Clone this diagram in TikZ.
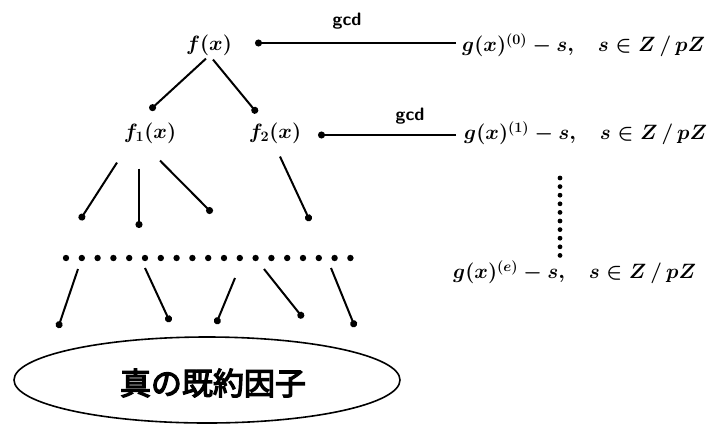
\documentclass[tikz,border=0pt]{standalone}
\usepackage{fontspec}
\newfontfamily\cjk{Noto Sans CJK JP}[AutoFakeBold=4]
\usetikzlibrary{arrows.meta,shapes.geometric}
\begin{document}
\begin{tikzpicture}[x=1pt,y=-1pt,
  lbl/.style={inner sep=0pt,font=\fontsize{21}{24}\selectfont\boldmath},
  glbl/.style={inner sep=0pt,anchor=west,font=\fontsize{20}{22}\selectfont\boldmath},
  gcdlbl/.style={font=\sffamily\bfseries\fontsize{18}{20}\selectfont,inner sep=0pt},
  conn/.style={line width=2pt,-{Circle[length=7pt]}},
  gcdline/.style={line width=1.2pt,-{Circle[length=7pt]}}]
\useasboundingbox (0,0) rectangle (711,426);
% top level
\node[lbl] (fx) at (209,45) {$f(x)$};
\node[lbl] (f1) at (150,133) {$f_1(x)$};
\node[lbl] (f2) at (275,133) {$f_2(x)$};
\node[glbl] (g0) at (462,45) {$g(x)^{(0)}-s,\;\;\; s\in Z\,/\,pZ$};
\node[glbl] (g1) at (464,133) {$g(x)^{(1)}-s,\;\;\; s\in Z\,/\,pZ$};
\node[glbl] (ge) at (453,272) {$g(x)^{(e)}-s,\;\;\; s\in Z\,/\,pZ$};
% gcd connectors
\coordinate (h0) at (255,43);
\coordinate (h1) at (318,135);
\draw[gcdline] (g0.west) ++(-6,-2) -- (h0);
\draw[gcdline] (g1.west) ++(-8,2) -- (h1);
\node[gcdlbl] (gcd0) at (347,21) {gcd};
\node[gcdlbl] (gcd1) at (410,116) {gcd};
% tree from f(x)
\coordinate (d1) at (150,110);
\coordinate (d2) at (257,113);
\draw[conn] (fx.south) ++(-3,3) -- (d1);
\draw[conn] (fx.south) ++(4,4) -- (d2);
% from f1, f2
\coordinate (a1) at (80,220);
\coordinate (a2) at (139,228);
\coordinate (a3) at (212,213);
\coordinate (a4) at (310,221);
\draw[conn] (f1.south) ++(-33,19) -- (a1);
\draw[conn] (f1.south) ++(-11,25) -- (a2);
\draw[conn] (f1.south) ++(10,17) -- (a3);
\draw[conn] (f2.south) ++(5,13) -- (a4);
% dotted row
\foreach \i in {0,...,18} \fill (66+15.8*\i,258) circle (3.2pt);
% vertical dots
\foreach \i in {0,...,9} \fill (560,178+8.6*\i) circle (2.4pt);
% ellipse
\node[ellipse,draw,line width=1.6pt,minimum width=386pt,minimum height=86pt,inner sep=0pt] (res) at (207,380) {};
\node[inner sep=0pt,font=\cjk\bfseries\fontsize{31}{34}\selectfont] (restext) at (213,383) {真の既約因子};
% lower connectors
\coordinate (b1) at (78,269);  \coordinate (c1) at (58,328);
\coordinate (b2) at (145,268); \coordinate (c2) at (170,322);
\coordinate (b3) at (235,278); \coordinate (c3) at (216,324);
\coordinate (b4) at (264,269); \coordinate (c4) at (303,318);
\coordinate (b5) at (331,268); \coordinate (c5) at (355,327);
\foreach \n in {1,...,5} \draw[conn] (b\n) -- (c\n);
\end{tikzpicture}
\end{document}
